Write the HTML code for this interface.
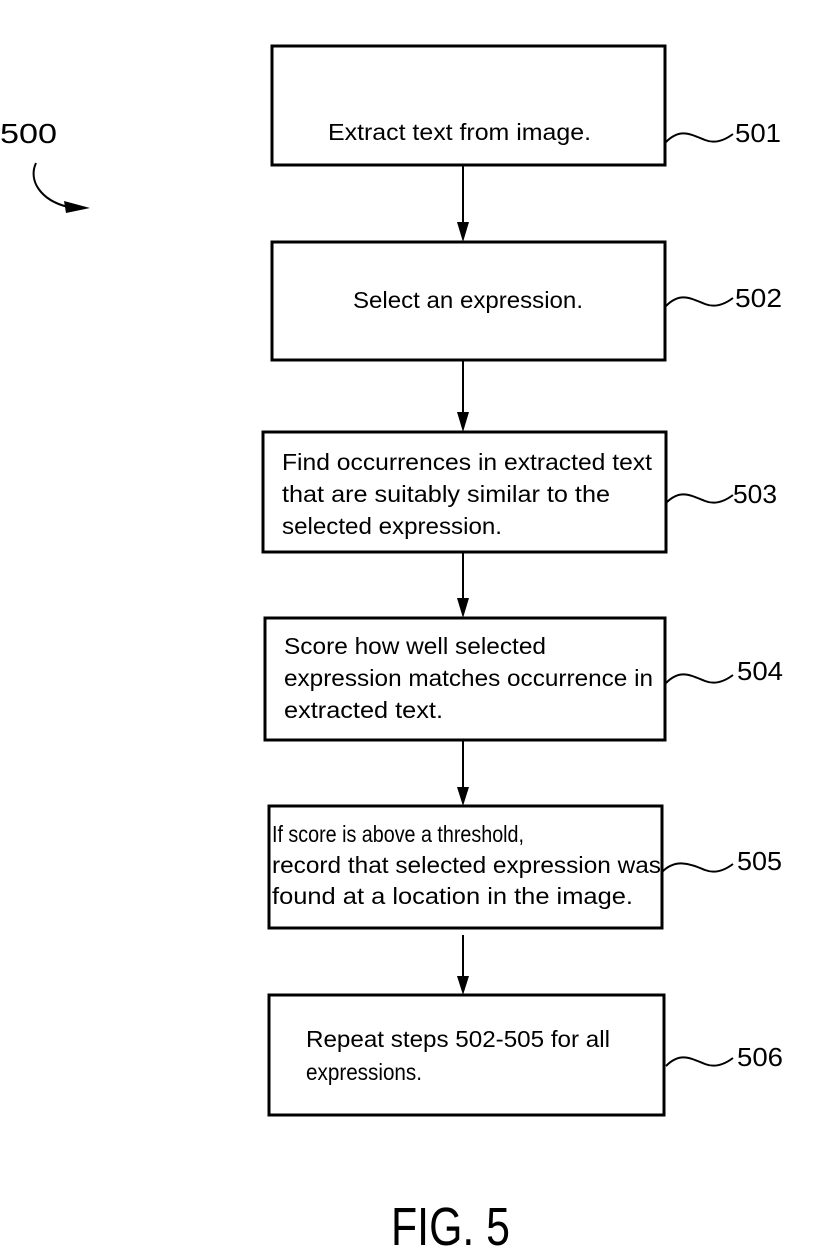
<!DOCTYPE html>
<html><head><style>html,body{margin:0;padding:0;background:#fff}svg{display:block}</style></head>
<body>
<svg width="816" height="1260" viewBox="0 0 816 1260" xmlns="http://www.w3.org/2000/svg" font-family="Liberation Sans, sans-serif" fill="#000">
<g fill="none" stroke="#000" stroke-width="3">
<rect x="272" y="46" width="393" height="119"/>
<rect x="272" y="242" width="393" height="118"/>
<rect x="263" y="432" width="403" height="120"/>
<rect x="265" y="618" width="400" height="122"/>
<rect x="269" y="806" width="393" height="122"/>
<rect x="269" y="995" width="395" height="120"/>
</g>
<g stroke="#000" stroke-width="2" fill="none">
<line x1="463" y1="165" x2="463" y2="222"/>
<line x1="463" y1="360" x2="463" y2="412"/>
<line x1="463" y1="552" x2="463" y2="598"/>
<line x1="463" y1="740" x2="463" y2="787"/>
<line x1="463" y1="935" x2="463" y2="976"/>
<path d="M666 142 C680 128,690 134,705 140 C715 144,725 140,733 134"/>
<path d="M666 306 C680 292,690 298,705 304 C715 308,725 304,733 298"/>
<path d="M666 503 C680 489,690 495,705 501 C715 505,725 501,733 495"/>
<path d="M666 683 C680 669,690 675,705 681 C715 685,725 681,733 675"/>
<path d="M662 872 C676 858,690 864,705 870 C715 874,725 870,733 864"/>
<path d="M666 1066 C680 1052,690 1058,705 1064 C715 1068,725 1064,733 1058"/>
<path d="M36 163 C28 180,40 200,68 207"/>
</g>
<g>
<polygon points="457,222 469,222 463,242"/>
<polygon points="457,412 469,412 463,432"/>
<polygon points="457,598 469,598 463,618"/>
<polygon points="457,787 469,787 463,806"/>
<polygon points="457,976 469,976 463,995"/>
<polygon points="64,201 90,208 66,213"/>
</g>
<g font-size="23">
<text x="328" y="140" textLength="263" lengthAdjust="spacingAndGlyphs">Extract text from image.</text>
<text x="353" y="308" textLength="230" lengthAdjust="spacingAndGlyphs">Select an expression.</text>
<text x="282" y="470" textLength="370" lengthAdjust="spacingAndGlyphs">Find occurrences in extracted text</text>
<text x="282" y="502" textLength="328" lengthAdjust="spacingAndGlyphs">that are suitably similar to the</text>
<text x="282" y="534" textLength="220" lengthAdjust="spacingAndGlyphs">selected expression.</text>
<text x="284" y="654" textLength="262" lengthAdjust="spacingAndGlyphs">Score how well selected</text>
<text x="284" y="686" textLength="369" lengthAdjust="spacingAndGlyphs">expression matches occurrence in</text>
<text x="284" y="718" textLength="159" lengthAdjust="spacingAndGlyphs">extracted text.</text>
<text x="272" y="842" textLength="252" lengthAdjust="spacingAndGlyphs">If score is above a threshold,</text>
<text x="272" y="873" textLength="389" lengthAdjust="spacingAndGlyphs">record that selected expression was</text>
<text x="272" y="904" textLength="361" lengthAdjust="spacingAndGlyphs">found at a location in the image.</text>
<text x="306" y="1047" textLength="304" lengthAdjust="spacingAndGlyphs">Repeat steps 502-505 for all</text>
<text x="306" y="1080" textLength="116" lengthAdjust="spacingAndGlyphs">expressions.</text>
</g>
<g font-size="26">
<text x="735" y="142" textLength="46" lengthAdjust="spacingAndGlyphs">501</text>
<text x="735" y="307" textLength="47" lengthAdjust="spacingAndGlyphs">502</text>
<text x="733" y="503" textLength="44" lengthAdjust="spacingAndGlyphs">503</text>
<text x="737" y="680" textLength="46" lengthAdjust="spacingAndGlyphs">504</text>
<text x="737" y="870" textLength="45" lengthAdjust="spacingAndGlyphs">505</text>
<text x="737" y="1066" textLength="46" lengthAdjust="spacingAndGlyphs">506</text>
</g>
<text x="0" y="143" font-size="28" textLength="57" lengthAdjust="spacingAndGlyphs">500</text>
<text x="391" y="1245" font-size="54" textLength="119" lengthAdjust="spacingAndGlyphs">FIG. 5</text>
</svg>
</body></html>
